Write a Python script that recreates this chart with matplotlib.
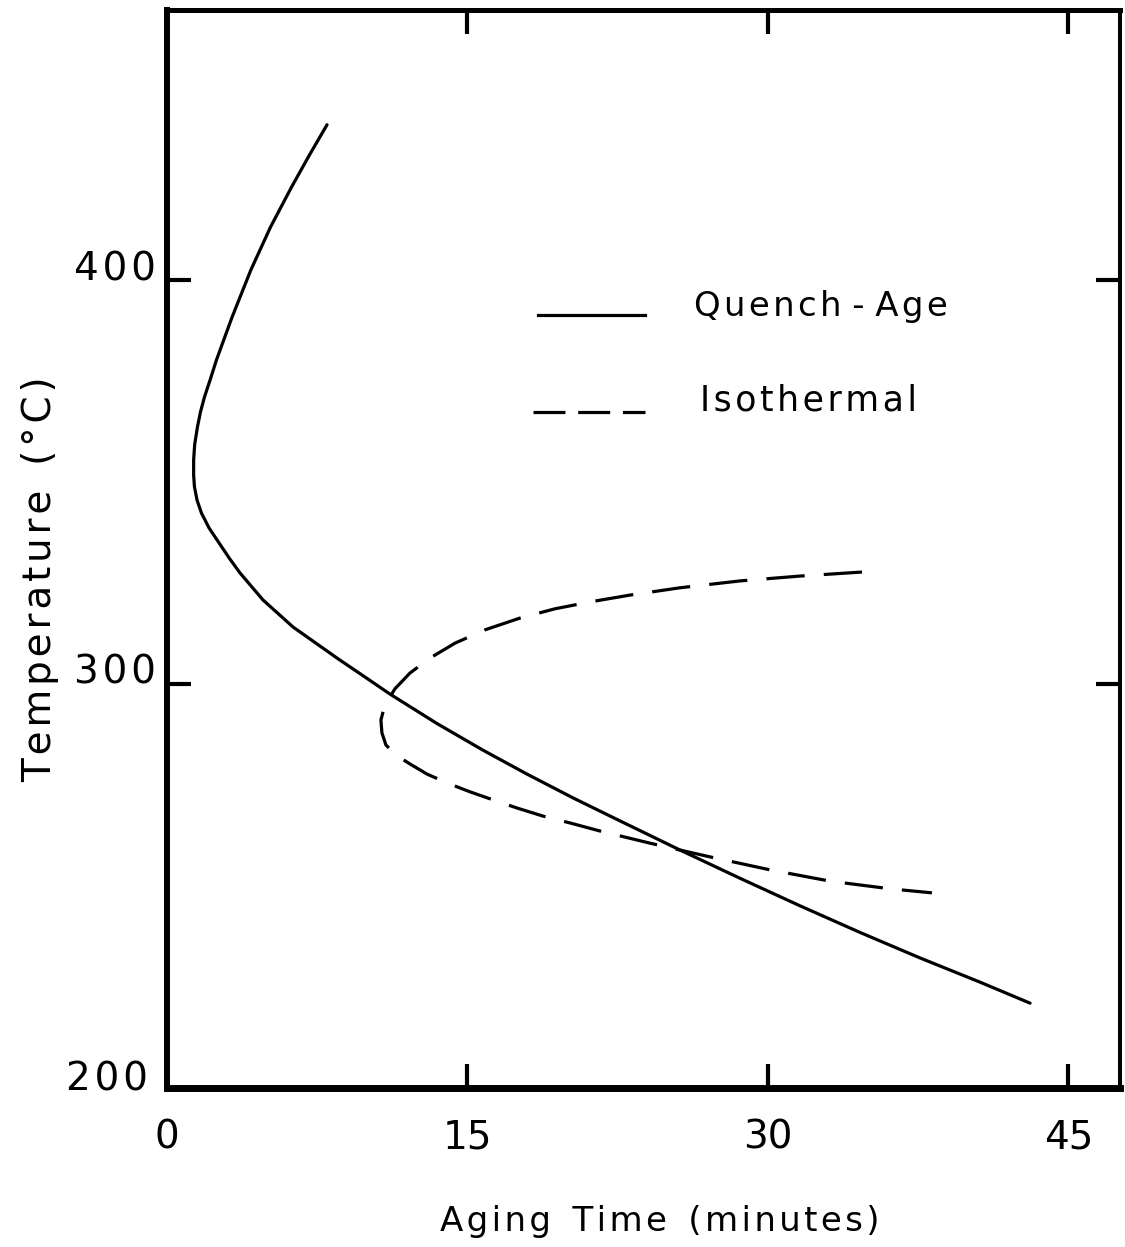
import matplotlib
matplotlib.use("Agg")
import matplotlib.pyplot as plt
from matplotlib.transforms import blended_transform_factory

# ---- data ----
qa_time = [7.99, 7.11, 6.22, 5.17, 4.19, 3.25, 2.47, 2.15, 1.87, 1.67, 1.52, 1.38,
           1.33, 1.33, 1.37, 1.50, 1.72, 2.10, 2.60, 3.10, 3.64, 4.79, 6.29, 8.49,
           9.74, 11.13, 13.48, 15.78, 17.97, 20.27, 22.62, 25.61, 28.61, 31.60,
           34.60, 37.59, 40.59, 43.09]
qa_temp = [438.4, 430.9, 423.0, 413.1, 402.5, 390.8, 380.2, 375.2, 371.0, 367.3,
           363.6, 359.2, 355.4, 351.7, 348.8, 345.5, 342.3, 338.6, 334.9, 331.2,
           327.5, 320.8, 314.1, 306.4, 302.2, 297.5, 290.2, 283.6, 277.7, 271.8,
           266.1, 258.9, 251.9, 245.1, 238.5, 232.2, 226.2, 221.0]

iso_time = [34.70, 31.60, 28.61, 25.61, 23.12, 21.12, 19.37, 17.62, 15.88, 14.38,
            13.13, 12.13, 11.38, 10.88, 10.68, 10.73, 10.93, 11.43, 12.13, 12.98,
            13.98, 15.13, 16.28, 17.47, 18.77, 20.12, 21.62, 24.11, 27.11, 30.10,
            33.10, 36.10, 38.19]
iso_temp = [327.7, 326.7, 325.5, 323.8, 322.0, 320.3, 318.6, 316.3, 313.4, 310.1,
            306.4, 302.7, 298.8, 294.8, 291.1, 287.9, 284.9, 282.4, 280.2, 277.7,
            275.5, 273.3, 271.3, 269.3, 267.3, 265.6, 263.6, 260.6, 257.2, 254.0,
            251.2, 249.3, 248.3]

x_ticks = [0, 15, 30, 45]
x_tick_labels = ["0", "15", "30", "45"]
y_ticks = [200, 300, 400]
y_tick_labels = ["200", "300", "400"]
series_labels = ["Quench - Age", "Isothermal"]

HS = "\u200a"  # hair space for the wide lettering of the original


def spaced(s):
    return " ".join(HS.join(w) for w in s.split(" "))


plt.rcParams['font.family'] = ['DejaVu Sans']

fig = plt.figure(figsize=(11.25, 12.47), dpi=100)
ax = fig.add_axes([167 / 1125, 1 - 1088 / 1247, 953 / 1125, 1078 / 1247])

ax.plot(qa_time, qa_temp, color='black', lw=2.3, solid_capstyle='round',
        solid_joinstyle='round')
ax.plot(iso_time, iso_temp, color='black', lw=2.3, dashes=(12, 6),
        dash_joinstyle='round')

ax.set_xlim(0, 47.58)
ax.set_ylim(200, 466.8)

ax.set_xticks(x_ticks)
ax.set_xticklabels(x_tick_labels, fontsize=28)
ax.set_yticks(y_ticks[1:])
ax.set_yticklabels([])
ax.tick_params(axis='x', direction='in', length=17, width=3, top=True, pad=22)
ax.tick_params(axis='y', direction='in', length=17, width=3, right=True)

# y tick labels sit slightly above their ticks in the original
tr = blended_transform_factory(ax.transAxes, ax.transData)
y_label_dx = [-0.020, -0.012, -0.012]
y_label_dy = [2.0, 2.8, 2.5]
for val, lab, dx, dy in zip(y_ticks, y_tick_labels, y_label_dx, y_label_dy):
    ax.text(dx, val + dy, spaced(lab), transform=tr, fontsize=28,
            ha='right', va='center')

ax.spines['left'].set_linewidth(4.3)
ax.spines['bottom'].set_linewidth(5)
ax.spines['top'].set_linewidth(3.6)
ax.spines['right'].set_linewidth(2.9)

# legend drawn by hand
ax.plot([0.389, 0.502], [0.717, 0.717], transform=ax.transAxes, color='black', lw=2.3)
ax.plot([0.384, 0.502], [0.627, 0.627], transform=ax.transAxes, color='black', lw=2.3,
        dashes=(10, 4))
ax.text(0.553, 0.725, spaced(series_labels[0]),
        transform=ax.transAxes, fontsize=24.5, ha='left', va='center')
ax.text(0.559, 0.638, spaced(series_labels[1]), transform=ax.transAxes, fontsize=25,
        ha='left', va='center')

fig.text(0.036, 1 - 579 / 1247, spaced("Temperature  (°C)"),
         rotation=90, fontsize=28, ha='center', va='center')
fig.text(660 / 1125, 1 - 1222 / 1247, spaced("Aging  Time  (minutes)"),
         fontsize=24.5, ha='center', va='center')

fig.savefig("out.png", dpi=100)
